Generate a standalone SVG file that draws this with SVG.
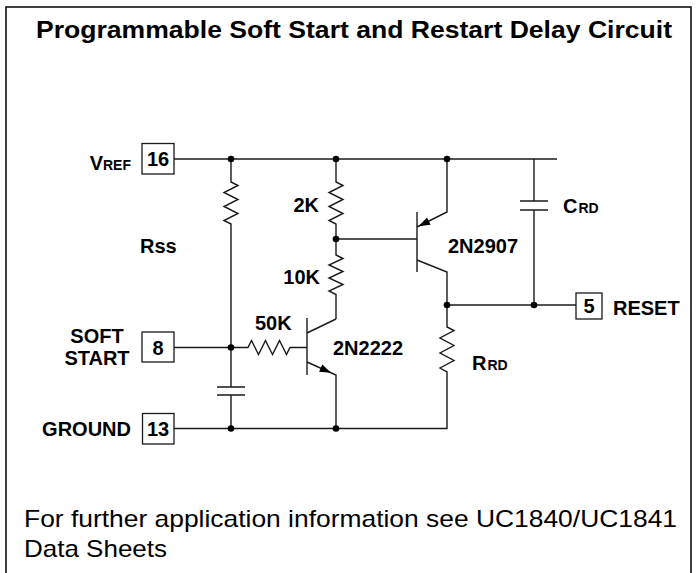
<svg xmlns="http://www.w3.org/2000/svg" width="697" height="573" viewBox="0 0 697 573">
<style>
.w{fill:none;stroke:#1a1a1a;stroke-width:1.4;stroke-linejoin:miter}
.d{fill:#000}
.box{fill:#fff;stroke:#1a1a1a;stroke-width:1.3}
.lb{font-family:"Liberation Sans",Arial,sans-serif;font-weight:bold;font-size:20px;fill:#000}
.sub{font-size:14px}
.t{font-family:"Liberation Sans",Arial,sans-serif;fill:#000}
</style>
<rect x="6" y="7" width="685" height="570" fill="#fff" stroke="#000" stroke-width="1.5"/>
<text class="t" x="36" y="38" font-size="23" font-weight="bold" textLength="636" lengthAdjust="spacingAndGlyphs">Programmable Soft Start and Restart Delay Circuit</text>

<g id="connectors">
  <path class="w" d="M174,159 H557"/>
  <path class="w" d="M231,159 V182 l7,3.5 l-14,7 l14,7 l-14,7 l14,7 l-14,7 l7,3.5 V387"/>
  <path class="w" d="M217,387 H245 M217,395 H245 M231,395 V428"/>
  <path class="w" d="M174,347.5 H248 l3.5,-7 l7,14 l7,-14 l7,14 l7,-14 l7,14 l3.5,-7 H307"/>
  <path class="w" d="M174,428.5 H447 V380"/>
  <path class="w" d="M336,159 V182 l7,3.5 l-14,7 l14,7 l-14,7 l14,7 l-14,7 l7,3.5 V255 l7,3.5 l-14,6.5 l14,6.5 l-14,6.5 l14,6.5 l-14,6.5 l7,3.5 V319"/>
  <path class="w" d="M307,318 V375 M307,333 L336,319 M307,362 L336,375 V428"/>
  <polygon class="d" points="331,372.7 319.1,371.7 322.3,364.4"/>
  <path class="w" d="M336,239 H417 M417,212 V272 M417,227 L447,212 V159 M417,260 L447,272 V305"/>
  <polygon class="d" points="418.5,226.3 430.6,224.7 427,217.5"/>
  <path class="w" d="M447,305 H576"/>
  <path class="w" d="M534,159 V201 M520,201 H548 M520,210 H548 M534,210 V305"/>
  <path class="w" d="M447,305 V327 l7,3.5 l-14,7.5 l14,7.5 l-14,7.5 l14,7.5 l-14,7.5 l7,4 V380"/>
  <circle class="d" cx="231" cy="159" r="3.3"/>
  <circle class="d" cx="336" cy="159" r="3.3"/>
  <circle class="d" cx="447" cy="159" r="3.3"/>
  <circle class="d" cx="336" cy="239" r="3.3"/>
  <circle class="d" cx="231" cy="347.5" r="3.3"/>
  <circle class="d" cx="447" cy="305" r="3.3"/>
  <circle class="d" cx="534" cy="305" r="3.3"/>
  <circle class="d" cx="231" cy="428.5" r="3.3"/>
  <circle class="d" cx="336" cy="428.5" r="3.3"/>
</g>

<g id="pin16">
  <rect class="box" x="142" y="143.5" width="32" height="30.5"/>
  <text class="lb" x="158" y="166" text-anchor="middle" font-size="17">16</text>
  <text class="lb" x="131" y="170" text-anchor="end">V<tspan class="sub">REF</tspan></text>
</g>
<g id="pin8">
  <rect class="box" x="142" y="332" width="32" height="30"/>
  <text class="lb" x="158" y="355" text-anchor="middle" font-size="17">8</text>
  <text class="lb" x="97" y="343" text-anchor="middle">SOFT</text>
  <text class="lb" x="97" y="365" text-anchor="middle">START</text>
</g>
<g id="pin13">
  <rect class="box" x="142.5" y="413.5" width="31.5" height="30.5"/>
  <text class="lb" x="158" y="436" text-anchor="middle" font-size="17">13</text>
  <text class="lb" x="131" y="436" text-anchor="end">GROUND</text>
</g>
<g id="pin5">
  <rect class="box" x="576" y="293" width="26" height="26"/>
  <text class="lb" x="589" y="313" text-anchor="middle" font-size="17">5</text>
  <text class="lb" x="613" y="315">RESET</text>
</g>
<g id="Rss"><text class="lb" x="140" y="253">Rss</text></g>
<g id="R2K"><text class="lb" x="319" y="212" text-anchor="end">2K</text></g>
<g id="R10K"><text class="lb" x="320" y="284" text-anchor="end">10K</text></g>
<g id="R50K"><text class="lb" x="255" y="330">50K</text></g>
<g id="Q2N2222"><text class="lb" x="333" y="355">2N2222</text></g>
<g id="Q2N2907"><text class="lb" x="448" y="253">2N2907</text></g>
<g id="CRD"><text class="lb" x="563" y="213">C<tspan class="sub" dx="1">RD</tspan></text></g>
<g id="RRD"><text class="lb" x="472" y="370">R<tspan class="sub" dx="1">RD</tspan></text></g>

<text class="t" x="24" y="527" font-size="24" textLength="653" lengthAdjust="spacingAndGlyphs">For further application information see UC1840/UC1841</text>
<text class="t" x="24" y="557" font-size="24" textLength="143" lengthAdjust="spacingAndGlyphs">Data Sheets</text>
</svg>
